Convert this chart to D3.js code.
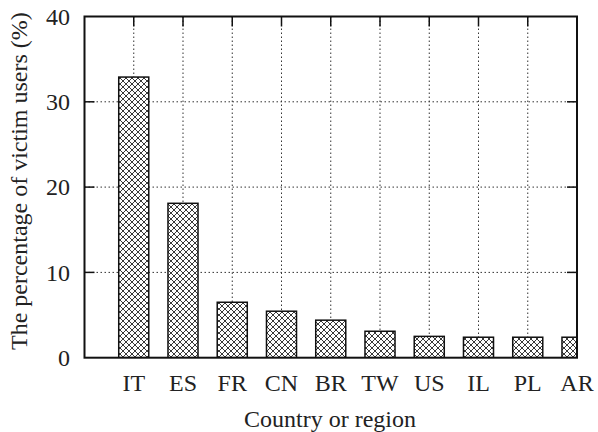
<!DOCTYPE html>
<html>
<head>
<meta charset="utf-8">
<script src="https://cdn.jsdelivr.net/npm/d3@7"></script>
<style>
  body { margin: 0; background: #fff; }
</style>
</head>
<body>
<svg id="chart" width="598" height="432"></svg>
<script>
const categories = ["IT", "ES", "FR", "CN", "BR", "TW", "US", "IL", "PL", "AR"];
const values = [32.9, 18.1, 6.5, 5.45, 4.4, 3.1, 2.5, 2.4, 2.4, 2.4];
const yTicks = [0, 10, 20, 30, 40];
const xTitle = "Country or region";
const yTitle = "The percentage of victim users (%)";

const FONT = "'Liberation Serif', 'Times New Roman', Times, 'DejaVu Serif', serif";
const svg = d3.select("#chart");
const L = 84.5, R = 577, T = 16.5, B = 357.7;

const x = d3.scaleLinear().domain([-1, categories.length - 1]).range([L, R]);
const y = d3.scaleLinear().domain([0, 40]).range([B, T]);
const barW = (x(1) - x(0)) * 0.61;

const defs = svg.append("defs");
const pat = defs.append("pattern").attr("id", "hatch")
  .attr("patternUnits", "userSpaceOnUse").attr("width", 6).attr("height", 6);
pat.append("rect").attr("width", 6).attr("height", 6).attr("fill", "#fff");
pat.append("path").attr("d", "M0,0L6,6M6,0L0,6M-1,5L1,7M5,-1L7,1M5,7L7,5M-1,1L1,-1")
  .attr("stroke", "#222").attr("stroke-width", 0.9);
defs.append("clipPath").attr("id", "clip").append("rect")
  .attr("x", L).attr("y", T).attr("width", R - L).attr("height", B - T);

// grid
const grid = svg.append("g").attr("stroke", "#333").attr("stroke-width", 1).attr("stroke-dasharray", "1.5,2.5");
grid.selectAll("line.v").data(d3.range(0, categories.length - 1)).join("line")
  .attr("x1", d => x(d)).attr("x2", d => x(d)).attr("y1", T).attr("y2", B);
grid.selectAll("line.h").data(yTicks.filter(t => t > 0 && t < 40)).join("line")
  .attr("x1", L).attr("x2", R).attr("y1", d => y(d)).attr("y2", d => y(d));

// bars
svg.append("g").attr("clip-path", "url(#clip)")
  .selectAll("rect").data(values).join("rect")
  .attr("x", (d, i) => x(i) - barW / 2)
  .attr("y", d => y(d))
  .attr("width", barW)
  .attr("height", d => B - y(d))
  .attr("fill", "url(#hatch)")
  .attr("stroke", "#111").attr("stroke-width", 1.5);

// ticks
const tk = svg.append("g").attr("stroke", "#111").attr("stroke-width", 1.5);
yTicks.filter(t => t > 0 && t < 40).forEach(t => {
  tk.append("line").attr("x1", L).attr("x2", L + 10).attr("y1", y(t)).attr("y2", y(t));
  tk.append("line").attr("x1", R - 10).attr("x2", R).attr("y1", y(t)).attr("y2", y(t));
});
d3.range(0, categories.length - 1).forEach(i => {
  tk.append("line").attr("x1", x(i)).attr("x2", x(i)).attr("y1", T).attr("y2", T + 10);
});

// frame
svg.append("rect").attr("x", L).attr("y", T).attr("width", R - L).attr("height", B - T)
  .attr("fill", "none").attr("stroke", "#111").attr("stroke-width", 2);

const txt = svg.append("g").attr("font-family", FONT).attr("fill", "#222").attr("font-size", 24);

// y tick labels
txt.append("g").selectAll("text").data(yTicks).join("text")
  .attr("x", 70).attr("y", d => y(d)).attr("dy", "0.34em")
  .attr("text-anchor", "end").text(d => d);

// x tick labels
txt.append("g").selectAll("text").data(categories).join("text")
  .attr("x", (d, i) => x(i)).attr("y", 391)
  .attr("text-anchor", "middle").text(d => d);

// titles
txt.append("text").attr("x", 330).attr("y", 427)
  .attr("text-anchor", "middle").text(xTitle);
txt.append("text").attr("transform", `translate(27,${(T + B) / 2 - 6}) rotate(-90)`)
  .attr("text-anchor", "middle").text(yTitle);
</script>
</body>
</html>
